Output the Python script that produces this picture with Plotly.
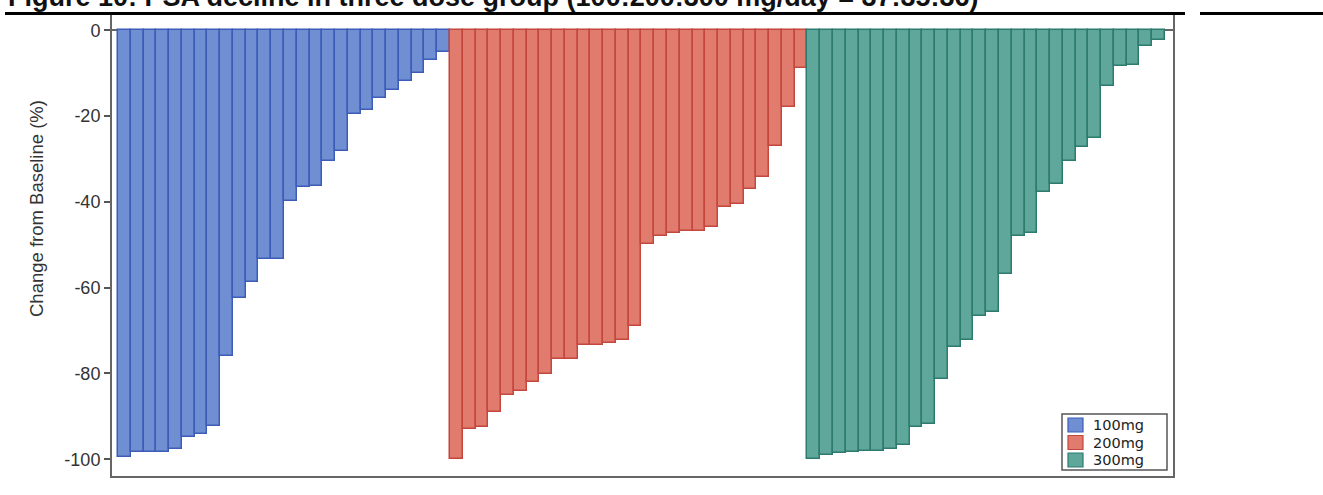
import plotly.graph_objects as go

# Percent change in PSA from baseline, sorted within each dose group
dose_labels = ["100mg", "200mg", "300mg"]

change_100mg = [-99.5, -98.3, -98.2, -98.2, -97.6, -94.7, -94.1, -92.2, -75.9, -62.3,
                -58.6, -53.3, -53.3, -39.9, -36.6, -36.2, -30.6, -28.2, -19.5, -18.5,
                -15.8, -13.9, -11.9, -10.0, -7.0, -5.1]
change_200mg = [-100.0, -92.9, -92.4, -88.9, -85.0, -84.0, -81.9, -80.1, -76.6, -76.6,
                -73.4, -73.4, -72.8, -72.3, -68.9, -49.8, -47.9, -47.3, -46.9, -46.7,
                -45.9, -41.2, -40.5, -37.0, -34.1, -26.9, -17.8, -8.7]
change_300mg = [-100.0, -99.1, -98.6, -98.2, -98.1, -98.0, -97.6, -96.7, -92.4, -91.8,
                -81.4, -73.8, -72.2, -66.5, -65.7, -56.8, -47.9, -47.3, -37.6, -35.9,
                -30.4, -27.2, -25.1, -13.1, -8.3, -8.0, -3.6, -2.2]

y_ticks = [0, -20, -40, -60, -80, -100]
title_text = "Figure 10: PSA decline in three dose group (100:200:300 mg/day = 37:35:36)"
y_title = "Change from Baseline (%)"

fill_colors = ["#6f8fd2", "#e07b6d", "#5fa79b"]
edge_colors = ["#3d5cb8", "#c4473e", "#2c7b6e"]

W, H = 1323, 495
M_L, M_R, M_T, M_B = 112, 150, 15, 19
PW, PH = W - M_L - M_R, H - M_T - M_B


def px_x(x):
    return (x - M_L) / PW


def px_y(y):
    return (H - M_B - y) / PH


fig = go.Figure()
start = 1
for label, vals, fc, ec in zip(dose_labels, [change_100mg, change_200mg, change_300mg],
                               fill_colors, edge_colors):
    xs = list(range(start, start + len(vals)))
    start += len(vals)
    fig.add_trace(go.Bar(
        x=xs, y=vals, name=label, width=1.0, showlegend=False,
        marker=dict(color=fc, line=dict(color=ec, width=1.5)),
    ))

fig.update_layout(
    width=W, height=H,
    margin=dict(l=M_L, r=M_R, t=M_T, b=M_B),
    paper_bgcolor="white", plot_bgcolor="white",
    bargap=0, barmode="overlay",
    font=dict(family="Liberation Sans, Arial, sans-serif", color="#333333"),
    xaxis=dict(
        range=[0.03, 83.13], showticklabels=False, ticks="", showgrid=False,
        zeroline=False, showline=True, linecolor="#666666", linewidth=2, mirror=False,
    ),
    yaxis=dict(
        range=[-103.9, 3.54], tickvals=y_ticks, ticktext=[str(v) for v in y_ticks],
        ticks="outside", ticklen=6, tickwidth=1.5, tickcolor="#555555",
        tickfont=dict(size=18, color="#333333"),
        showgrid=False, zeroline=True, zerolinecolor="#666666", zerolinewidth=1.5,
        showline=True, linecolor="#666666", linewidth=2, mirror=True,
    ),
)

# Rotated axis label
fig.add_annotation(
    text=y_title, xref="paper", yref="paper", x=px_x(37), y=px_y(209),
    xanchor="center", yanchor="middle", textangle=-90, showarrow=False,
    font=dict(size=18.5, color="#333333"),
)

# Compact legend box in the lower-right corner of the plot
fig.add_shape(type="rect", xref="paper", yref="paper",
              x0=px_x(1062), x1=px_x(1167), y0=px_y(470), y1=px_y(414),
              line=dict(color="#555555", width=1.5), fillcolor="white", layer="above")
for i, (label, fc, ec) in enumerate(zip(dose_labels, fill_colors, edge_colors)):
    cy = 425 + i * 17.5
    fig.add_shape(type="rect", xref="paper", yref="paper",
                  x0=px_x(1068), x1=px_x(1083), y0=px_y(cy + 7), y1=px_y(cy - 7),
                  line=dict(color=ec, width=1.2), fillcolor=fc, layer="above")
    fig.add_annotation(
        text=label, xref="paper", yref="paper", x=px_x(1091), y=px_y(cy),
        xanchor="left", yanchor="middle", showarrow=False,
        font=dict(family="DejaVu Sans, sans-serif", size=14.5, color="#222222"),
    )

# Figure caption, running off the top edge of the page
fig.add_annotation(
    text="<b>" + title_text + "</b>", xref="paper", yref="paper",
    x=px_x(6), y=px_y(14), xanchor="left", yanchor="bottom", showarrow=False,
    font=dict(family="Liberation Sans, Arial, sans-serif", size=27, color="#111111"),
)

# Heavy rule beneath the caption
for x0, x1 in [(5, 1185), (1200, 1323)]:
    fig.add_shape(type="line", xref="paper", yref="paper",
                  x0=px_x(x0), x1=px_x(x1), y0=px_y(13.6), y1=px_y(13.6),
                  line=dict(color="black", width=3))

fig.write_html("out.html")
